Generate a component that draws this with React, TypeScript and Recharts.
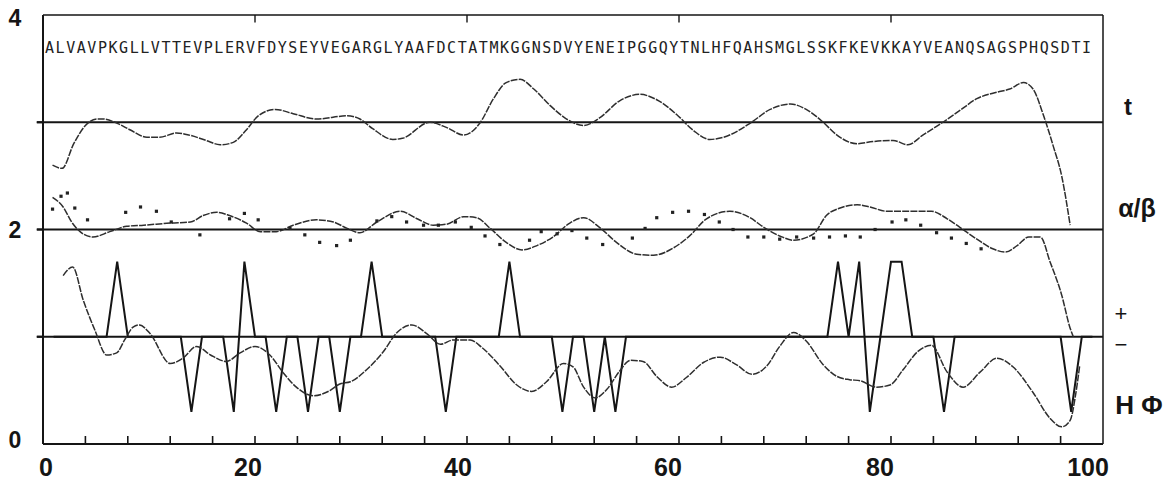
import React from 'react';
import { ComposedChart, Line, Scatter, XAxis, YAxis, ReferenceLine } from 'recharts';

// Protein sequence printed along the top of the profile plot
const SEQUENCE =
  'ALVAVPKGLLVTTEVPLERVFDYSEYVEGARGLYAAFDCTATMKGGNSDVYENEIPGGQYTNLHFQAHSMGLSSKFKEVKKAYVEANQSAGSPHQSDTI';

type Pt = [number, number];

// Turn propensity profile (baseline 3)
const TURN: Pt[] = [
  [0.9, 2.6], [1.8, 2.57], [2.9, 2.8], [4.0, 2.97], [5.1, 3.03], [5.7, 3.03], [7.0, 2.99], [8.2, 2.93],
  [9.8, 2.86], [11.0, 2.86], [12.6, 2.9], [13.8, 2.88], [15.4, 2.83], [16.7, 2.79], [17.9, 2.81], [19.2, 2.93],
  [20.2, 3.05], [21.9, 3.12], [23.6, 3.08], [25.8, 3.03], [28.7, 3.06], [29.9, 3.03], [31.1, 2.94], [33.0, 2.84],
  [33.9, 2.85], [36.5, 3.0], [38.1, 2.95], [39.7, 2.88], [41.2, 2.99], [42.5, 3.22], [43.7, 3.37], [45.0, 3.4],
  [46.3, 3.31], [47.8, 3.16], [49.4, 3.03], [51.0, 2.97], [52.5, 3.04], [54.4, 3.2], [56.3, 3.26], [57.9, 3.21],
  [59.8, 3.07], [61.4, 2.92], [62.9, 2.84], [64.5, 2.87], [66.7, 2.99], [68.6, 3.12], [70.5, 3.17], [72.0, 3.12],
  [73.6, 3.0], [74.9, 2.88], [76.8, 2.8], [78.3, 2.82], [80.2, 2.83], [81.6, 2.79], [83.0, 2.88], [84.9, 3.0],
  [86.5, 3.11], [88.1, 3.22], [90.0, 3.28], [91.2, 3.31], [92.5, 3.37], [93.4, 3.31], [94.4, 3.06], [95.3, 2.78],
  [96.1, 2.5], [96.9, 2.04],
];

// Alpha/beta profile, smoothed line (baseline 2)
const ALPHA_BETA: Pt[] = [
  [0.9, 2.3], [1.9, 2.21], [2.7, 2.07], [3.5, 1.98], [4.7, 1.93], [6.3, 1.98], [7.9, 2.03], [9.5, 2.04],
  [12.0, 2.06], [13.9, 2.07], [15.1, 2.13], [16.4, 2.16], [17.6, 2.13], [19.2, 2.06], [20.5, 1.98], [22.0, 1.98],
  [23.6, 2.04], [25.8, 2.09], [27.4, 2.07], [28.7, 2.01], [29.9, 1.97], [31.5, 2.07], [33.7, 2.17], [35.3, 2.1],
  [36.8, 2.04], [38.1, 2.05], [39.7, 2.12], [40.9, 2.11], [42.2, 2.01], [43.7, 1.88], [45.2, 1.81], [46.6, 1.85],
  [48.1, 1.93], [49.7, 2.06], [51.0, 2.11], [52.5, 2.02], [54.1, 1.88], [56.0, 1.77], [57.6, 1.76], [59.5, 1.83],
  [61.0, 1.94], [62.6, 2.1], [64.8, 2.17], [66.7, 2.11], [68.0, 2.02], [69.5, 1.94], [70.8, 1.9], [72.7, 1.96],
  [73.9, 2.13], [75.2, 2.2], [76.8, 2.23], [78.0, 2.21], [79.6, 2.17], [81.5, 2.17], [83.8, 2.17], [85.3, 2.1],
  [86.5, 2.02], [88.1, 1.91], [89.6, 1.82], [90.8, 1.79], [91.9, 1.85], [93.0, 1.93], [94.1, 1.93], [95.0, 1.7],
  [96.1, 1.39], [96.9, 1.08], [97.2, 1.0],
];

// Alpha/beta profile, second prediction drawn as points
const ALPHA_BETA_DOTS: Pt[] = [
  [0.9, 2.19], [1.7, 2.31], [2.3, 2.34], [3.0, 2.2], [4.2, 2.09], [7.8, 2.16], [9.2, 2.21], [10.7, 2.17],
  [12.1, 2.07], [14.8, 1.95], [17.6, 2.1], [19.0, 2.15], [20.3, 2.09], [23.3, 2.01], [24.7, 1.95], [26.1, 1.88],
  [27.7, 1.85], [29.0, 1.9], [31.5, 2.08], [32.9, 2.12], [34.3, 2.07], [35.9, 2.04], [37.3, 2.04], [38.9, 2.07],
  [40.4, 2.02], [41.7, 1.94], [43.1, 1.86], [45.9, 1.9], [47.0, 1.98], [48.5, 1.96], [49.9, 1.99], [51.3, 1.92],
  [52.8, 1.86], [55.6, 1.92], [56.8, 2.01], [57.9, 2.11], [59.4, 2.16], [60.9, 2.17], [62.4, 2.14], [63.8, 2.07],
  [65.1, 2.0], [66.5, 1.93], [68.0, 1.93], [69.5, 1.91], [71.1, 1.93], [72.7, 1.92], [74.2, 1.93], [75.7, 1.94],
  [77.1, 1.93], [78.5, 2.0], [80.1, 2.07], [81.4, 2.09], [82.8, 2.04], [84.3, 1.97], [85.7, 1.92], [87.1, 1.87],
  [88.5, 1.82],
];

// Hydrophobicity profile (below baseline 1)
const HYDRO: Pt[] = [
  [1.9, 1.57], [2.8, 1.65], [3.8, 1.34], [4.9, 1.06], [6.0, 0.83], [6.95, 0.85], [7.7, 0.97], [8.5, 1.09],
  [9.1, 1.11], [10.1, 1.03], [12.0, 0.75], [13.2, 0.8], [14.5, 0.91], [15.8, 0.83], [17.3, 0.77], [18.6, 0.85],
  [20.0, 0.91], [21.4, 0.83], [22.7, 0.66], [23.9, 0.53], [25.5, 0.45], [27.1, 0.5], [28.0, 0.56], [29.0, 0.58],
  [30.5, 0.69], [32.1, 0.86], [33.4, 1.04], [34.8, 1.11], [36.2, 1.03], [37.5, 0.93], [38.7, 0.97], [40.3, 0.97],
  [41.4, 0.9], [43.1, 0.73], [44.7, 0.55], [46.1, 0.49], [47.5, 0.58], [49.1, 0.75], [50.0, 0.72], [51.0, 0.53],
  [52.1, 0.43], [53.2, 0.51], [54.4, 0.68], [55.4, 0.78], [56.6, 0.77], [57.9, 0.63], [59.3, 0.53], [60.7, 0.62],
  [62.3, 0.76], [63.9, 0.81], [65.4, 0.74], [66.9, 0.65], [68.3, 0.73], [69.5, 0.91], [70.8, 1.04], [72.0, 0.96],
  [73.6, 0.74], [74.9, 0.63], [76.1, 0.6], [77.1, 0.59], [78.6, 0.53], [79.9, 0.55], [81.2, 0.7], [82.5, 0.86],
  [83.8, 0.92], [85.3, 0.67], [86.8, 0.53], [88.4, 0.67], [90.0, 0.8], [91.5, 0.72], [93.4, 0.48], [95.0, 0.24],
  [96.1, 0.16], [96.9, 0.22], [97.4, 0.45], [97.8, 0.73],
];

// Charge per residue 1..99 (1.7 = positive, 0.3 = negative, 1 = neutral)
const CHARGE: number[] = [
  1, 1, 1, 1, 1, 1, 1.7, 1, 1, 1,
  1, 1, 1, 0.3, 1, 1, 1, 0.3, 1.7, 1,
  1, 0.3, 1, 1, 0.3, 1, 1, 0.3, 1, 1,
  1.7, 1, 1, 1, 1, 1, 1, 0.3, 1, 1,
  1, 1, 1, 1.7, 1, 1, 1, 1, 0.3, 1,
  1, 0.3, 1, 0.3, 1, 1, 1, 1, 1, 1,
  1, 1, 1, 1, 1, 1, 1, 1, 1, 1,
  1, 1, 1, 1, 1.7, 1, 1.7, 0.3, 1, 1.7,
  1.7, 1, 1, 1, 0.3, 1, 1, 1, 1, 1,
  1, 1, 1, 1, 1, 1, 0.3, 1, 1,
];

const BASELINES = [1, 2, 3];
const X_TICKS = [0, 4, 8, 12, 16, 20, 24, 28, 32, 36, 40, 44, 48, 52, 56, 60, 64, 68, 72, 76, 80, 84, 88, 92, 96, 100];
const X_LABELS = [0, 20, 40, 60, 80, 100];
const TOP_TICKS = [20, 40, 60, 80];
const Y_TICKS = [0, 1, 2, 3, 4];
const Y_LABELS = [0, 2, 4];
const SIDE_LABELS = ['t', 'α/β', '+', '−', 'H Φ'];
const SIDE_LEVELS = [3.15, 2.2, 1.22, 0.93, 0.36];

const FONT = "'Liberation Sans', Arial, sans-serif";
const INK = '#151515';
const CURVE = '#2e2e2e';

const toXY = (pts: Pt[]) => pts.map(([x, y]) => ({ x, y }));
const chargeData = CHARGE.map((y, i) => ({ x: i + 1, y }));

const xLabelShift: Record<number, number> = { 0: 3, 20: -7, 40: -9, 60: -11, 80: -11, 100: -15 };

const BottomTick = (props: any) => {
  const { x, y, payload } = props;
  const v = payload.value as number;
  return (
    <g>
      {v > 0 && v < 100 && <line x1={x} x2={x} y1={y} y2={y - 8} stroke={INK} strokeWidth={1.6} />}
      {X_LABELS.includes(v) && (
        <text x={x + (xLabelShift[v] ?? 0)} y={y + 32} textAnchor="middle" fontFamily={FONT} fontSize={25} fontWeight="bold" fill={INK}>
          {v}
        </text>
      )}
    </g>
  );
};

const yLabelShift: Record<number, number> = { 0: -4, 2: 0, 4: 3 };

const LeftTick = (props: any) => {
  const { x, y, payload } = props;
  const v = payload.value as number;
  return (
    <g>
      {BASELINES.includes(v) && <line x1={x - 6} x2={x} y1={y} y2={y} stroke={INK} strokeWidth={2} />}
      {Y_LABELS.includes(v) && (
        <text x={15} y={y + (yLabelShift[v] ?? 0)} dominantBaseline="central" textAnchor="middle" fontFamily={FONT} fontSize={23} fontWeight="bold" fill={INK}>
          {v}
        </text>
      )}
    </g>
  );
};

const sideStyle: Record<string, { dx: number; size: number; weight: string }> = {
  t: { dx: 25, size: 24, weight: 'bold' },
  'α/β': { dx: 34, size: 25, weight: 'bold' },
  '+': { dx: 18, size: 22, weight: 'normal' },
  '−': { dx: 18, size: 22, weight: 'normal' },
  'H Φ': { dx: 36, size: 26, weight: 'bold' },
};

const SideLabel = ({ viewBox, text }: any) => {
  const s = sideStyle[text];
  const xr = (viewBox?.x ?? 43) + (viewBox?.width ?? 1060);
  return (
    <text x={xr + s.dx} y={viewBox?.y ?? 0} dominantBaseline="central" textAnchor="middle" fontFamily={FONT} fontSize={s.size} fontWeight={s.weight} fill={INK}>
      {text}
    </text>
  );
};

const SequenceText = (props: any) => {
  const vb = props.viewBox || {};
  const x0 = vb.x ?? 43;
  const w = vb.width ?? 1060;
  const y = vb.y ?? 47;
  return (
    <text
      x={x0 + 2}
      y={y + 6}
      textLength={w - 14}
      lengthAdjust="spacing"
      fontFamily="'DejaVu Sans Mono', monospace"
      fontSize={15}
      fill="#222"
    >
      {SEQUENCE}
    </text>
  );
};

const DotMark = (p: any) => <rect x={p.cx - 1.6} y={p.cy - 1.6} width={3.2} height={3.2} fill="#222" />;

export default function App() {
  return (
    <div style={{ position: 'absolute', left: 0, top: 0, width: 1168, height: 481, background: '#fff' }}>
      <ComposedChart width={1168} height={481} margin={{ top: 15, right: 0, bottom: 0, left: 0 }}>
        <XAxis
          dataKey="x"
          type="number"
          domain={[0, 100]}
          ticks={X_TICKS}
          interval={0}
          height={37}
          tickSize={0}
          tickMargin={0}
          tickLine={false}
          axisLine={{ stroke: INK, strokeWidth: 2 }}
          tick={<BottomTick />}
        />
        <YAxis
          dataKey="y"
          type="number"
          domain={[0, 4]}
          ticks={Y_TICKS}
          interval={0}
          width={43}
          tickSize={0}
          tickMargin={0}
          tickLine={false}
          axisLine={{ stroke: INK, strokeWidth: 2 }}
          tick={<LeftTick />}
        />
        <YAxis
          yAxisId="side"
          orientation="right"
          type="number"
          domain={[0, 4]}
          width={65}
          tick={false}
          tickLine={false}
          axisLine={false}
        />

        {/* top and right frame with short inward ticks on the top edge */}
        <ReferenceLine segment={[{ x: 0, y: 4 }, { x: 100, y: 4 }]} ifOverflow="visible" stroke={INK} strokeWidth={1.5} />
        <ReferenceLine segment={[{ x: 100, y: 0 }, { x: 100, y: 4 }]} ifOverflow="visible" stroke={INK} strokeWidth={1.5} />
        {TOP_TICKS.map((t) => (
          <ReferenceLine key={`top${t}`} segment={[{ x: t, y: 4 }, { x: t, y: 3.93 }]} ifOverflow="visible" stroke={INK} strokeWidth={1.4} />
        ))}

        {BASELINES.map((b) => (
          <ReferenceLine
            key={b}
            segment={[{ x: -0.6, y: b }, { x: 100, y: b }]}
            ifOverflow="visible"
            stroke={INK}
            strokeWidth={2}
          />
        ))}
        <ReferenceLine y={3.7} stroke="none" label={(p: any) => <SequenceText {...p} />} />
        {SIDE_LABELS.map((txt, i) => (
          <ReferenceLine key={txt} y={SIDE_LEVELS[i]} stroke="none" label={(p: any) => <SideLabel {...p} text={txt} />} />
        ))}

        <Line data={chargeData} dataKey="y" type="linear" stroke={INK} strokeWidth={2} dot={false} isAnimationActive={false} />
        <Line data={toXY(TURN)} dataKey="y" type="monotone" stroke={CURVE} strokeWidth={1.5} strokeDasharray="7 1.2" dot={false} isAnimationActive={false} />
        <Line data={toXY(ALPHA_BETA)} dataKey="y" type="monotone" stroke={CURVE} strokeWidth={1.5} strokeDasharray="7 1.2" dot={false} isAnimationActive={false} />
        <Line data={toXY(HYDRO)} dataKey="y" type="monotone" stroke={CURVE} strokeWidth={1.5} strokeDasharray="7 1.2" dot={false} isAnimationActive={false} />
        <Scatter data={toXY(ALPHA_BETA_DOTS)} dataKey="y" shape={DotMark} isAnimationActive={false} />
      </ComposedChart>
    </div>
  );
}
